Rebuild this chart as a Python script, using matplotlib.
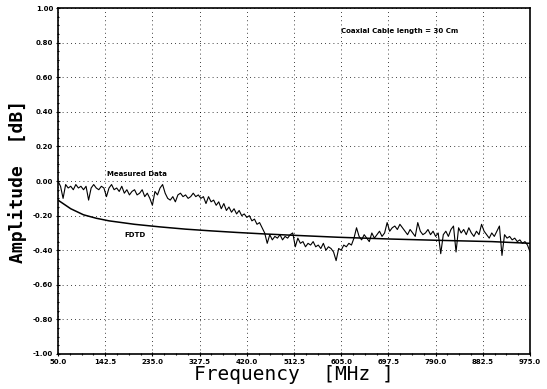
import numpy as np
import matplotlib
matplotlib.use("Agg")
import matplotlib.pyplot as plt
from matplotlib.ticker import AutoMinorLocator

# measured data, sampled every 5 MHz from 50 to 975 MHz
freq = np.arange(50, 980, 5)
measured = [
    0.00, -0.03, -0.10, -0.02, -0.04, -0.03, -0.05, -0.02, -0.04, -0.03,   # 50-95
    -0.05, -0.03, -0.11, -0.04, -0.02, -0.04, -0.05, -0.03, -0.04, -0.09,  # 100-145
    -0.04, -0.02, -0.05, -0.04, -0.06, -0.03, -0.07, -0.05, -0.08, -0.06,  # 150-195
    -0.05, -0.08, -0.07, -0.05, -0.09, -0.07, -0.10, -0.14, -0.06, -0.08,  # 200-245
    -0.04, -0.02, -0.07, -0.10, -0.11, -0.09, -0.12, -0.08, -0.07, -0.09,  # 250-295
    -0.08, -0.10, -0.09, -0.07, -0.09, -0.08, -0.10, -0.09, -0.13, -0.09,  # 300-345
    -0.12, -0.11, -0.14, -0.12, -0.16, -0.13, -0.17, -0.15, -0.18, -0.16,  # 350-395
    -0.19, -0.17, -0.20, -0.19, -0.21, -0.20, -0.23, -0.22, -0.25, -0.24,  # 400-445
    -0.27, -0.30, -0.36, -0.31, -0.34, -0.32, -0.33, -0.31, -0.34, -0.32,  # 450-495
    -0.33, -0.31, -0.30, -0.38, -0.33, -0.36, -0.35, -0.38, -0.36, -0.37,  # 500-545
    -0.35, -0.38, -0.37, -0.39, -0.36, -0.40, -0.38, -0.39, -0.41, -0.46,  # 550-595
    -0.39, -0.40, -0.37, -0.38, -0.36, -0.37, -0.33, -0.27, -0.32, -0.34,  # 600-645
    -0.31, -0.33, -0.35, -0.30, -0.33, -0.31, -0.29, -0.32, -0.30, -0.24,  # 650-695
    -0.29, -0.27, -0.26, -0.28, -0.25, -0.27, -0.29, -0.31, -0.28, -0.30,  # 700-745
    -0.32, -0.24, -0.29, -0.31, -0.30, -0.28, -0.31, -0.29, -0.32, -0.30,  # 750-795
    -0.42, -0.31, -0.29, -0.32, -0.28, -0.26, -0.41, -0.27, -0.30, -0.28,  # 800-845
    -0.31, -0.27, -0.30, -0.32, -0.29, -0.31, -0.25, -0.29, -0.31, -0.33,  # 850-895
    -0.30, -0.32, -0.29, -0.26, -0.43, -0.31, -0.33, -0.32, -0.34, -0.33,  # 900-945
    -0.35, -0.34, -0.36, -0.35, -0.37, -0.41,                              # 950-975
]

fdtd_freq = [50, 75, 100, 125, 150, 175, 200, 250, 300, 350, 400, 450, 500, 600, 700, 800, 900, 975]
fdtd = [-0.11, -0.16, -0.195, -0.215, -0.23, -0.24, -0.25, -0.265, -0.278, -0.288,
        -0.297, -0.305, -0.312, -0.325, -0.335, -0.343, -0.35, -0.36]

xticks = [50.0, 142.5, 235.0, 327.5, 420.0, 512.5, 605.0, 697.5, 790.0, 882.5, 975.0]
yticks = [-1.0, -0.8, -0.6, -0.4, -0.2, 0.0, 0.2, 0.4, 0.6, 0.8, 1.0]

fig = plt.figure(figsize=(5.47, 3.89), dpi=100)
ax = fig.add_axes([0.106, 0.09, 0.863, 0.889])

ax.plot(freq, measured, color="black", lw=0.8)
ax.plot(fdtd_freq, fdtd, color="black", lw=1.1)

ax.set_xlim(50, 975)
ax.set_ylim(-1, 1)
ax.set_xticks(xticks)
ax.set_yticks(yticks)
ax.set_xticklabels(["%.1f" % t for t in xticks], fontsize=5, fontweight="bold")
ax.set_yticklabels(["%.2f" % t for t in yticks], fontsize=5, fontweight="bold")
ax.xaxis.set_minor_locator(AutoMinorLocator(4))
ax.yaxis.set_minor_locator(AutoMinorLocator(4))
ax.tick_params(which="both", direction="inout", length=3, width=0.8, pad=2)
ax.tick_params(which="minor", length=2)
ax.grid(True, which="major", ls=(0, (1, 4)), color="black", lw=0.6)
for s in ax.spines.values():
    s.set_linewidth(1.2)

ax.set_xlabel("Frequency  [MHz ]", fontsize=14, family="DejaVu Sans Mono", labelpad=0)
ax.set_ylabel("Amplitude  [dB]", fontsize=13, family="DejaVu Sans Mono", fontweight="bold", labelpad=4)

ax.text(205, 0.04, "Measured Data", fontsize=5, fontweight="bold", ha="center", va="center")
ax.text(200, -0.31, "FDTD", fontsize=5, fontweight="bold", ha="center", va="center")
ax.text(720, 0.87, "Coaxial Cable length = 30 Cm", fontsize=5, fontweight="bold", ha="center", va="center")

fig.savefig("out.png", dpi=100)
